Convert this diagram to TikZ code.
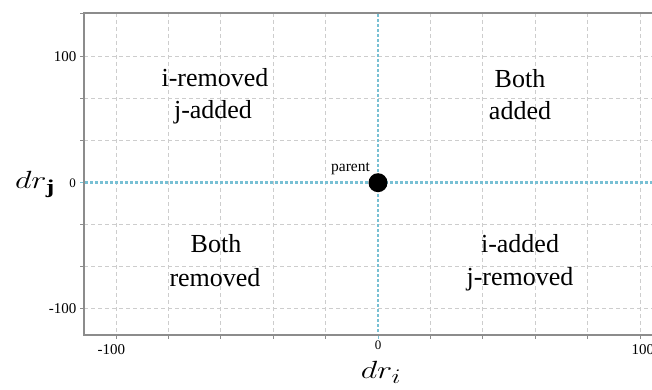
\documentclass[tikz,border=0pt]{standalone}
\usepackage{fontspec}
\setmainfont{Liberation Serif}
\definecolor{gridgray}{RGB}{205,205,205}
\definecolor{axisgray}{RGB}{140,140,140}
\definecolor{dotblue}{RGB}{120,192,212}
\begin{document}
\begin{tikzpicture}[x=1pt,y=-1pt,
  gridline/.style={draw=gridgray,line width=0.8pt,dash pattern=on 4pt off 3pt},
  axisline/.style={draw=axisgray,line width=1.2pt},
  zeroline/.style={draw=dotblue,line width=2.8pt,dash pattern=on 2.6pt off 2.4pt},
  ticklab/.style={inner sep=0pt,font=\fontsize{15}{15}\selectfont},
  smalllab/.style={inner sep=0pt,font=\fontsize{13}{13}\selectfont},
  quadlab/.style={inner sep=0pt,anchor=base,font=\fontsize{26}{26}\selectfont},
  axlab/.style={inner sep=0pt}]
\clip (0,0) rectangle (652,390);
\fill[white] (0,0) rectangle (652,390);
% grid
\foreach \x in {116,168.4,220.8,273.2,325.6,430.4,482.8,535.2,587.6,640}
  \draw[gridline] (\x,13) -- (\x,335);
\foreach \y in {56.7,98.7,140.7,224.7,266.7,308.7}
  \draw[gridline] (84,\y) -- (652,\y);
% ticks
\foreach \y in {13,56.7,98.7,140.7,224.7,266.7,308.7}
  \draw[axisline,line width=0.9pt] (80,\y) -- (84,\y);
\draw[dotblue,line width=0.9pt] (80,182.7) -- (84,182.7);
\foreach \x in {116,168.4,220.8,273.2,325.6,430.4,482.8,535.2,587.6,640}
  \draw[axisline,line width=0.9pt] (\x,335) -- (\x,339);
\draw[dotblue,line width=0.9pt] (378,335) -- (378,339);
% zero lines
\coordinate (vtop) at (378,14);
\coordinate (vbot) at (378,334);
\coordinate (hleft) at (85,182.7);
\coordinate (hright) at (652,182.7);
\draw[zeroline] (vtop) -- (vbot);
\draw[zeroline] (hleft) -- (hright);
% axes
\draw[axisline] (652,13) -- (84,13) -- (84,335) -- (652,335);
% tick labels
\node[ticklab,anchor=east] (y100) at (76.5,56.7) {100};
\node[smalllab,anchor=east] (y0) at (76,183) {0};
\node[ticklab,anchor=east] (ym100) at (76.5,309) {-100};
\node[ticklab] (xm100) at (111.3,350) {-100};
\node[smalllab] (x0) at (378,345.5) {0};
\node[ticklab,anchor=west] (x100) at (631.5,350) {100};
% parent point
\node[circle,fill=black,minimum size=19pt,inner sep=0pt] (parent) at (378,182.7) {};
\node[inner sep=0pt,anchor=base,font=\fontsize{15.5}{15.5}\selectfont] (plab) at (350.5,171.7) {parent};
% quadrant labels
\node[quadlab] (tla) at (215,86.7) {i-removed};
\node[quadlab] (tlb) at (213,118.5) {j-added};
\node[quadlab] (tra) at (520,87.5) {Both};
\node[quadlab] (trb) at (520,119.5) {added};
\node[quadlab] (bla) at (216,252) {Both};
\node[quadlab] (blb) at (215,286) {removed};
\node[quadlab] (bra) at (520,252) {i-added};
\node[quadlab] (brb) at (520,285.5) {j-removed};
% axis labels
\node[axlab] (dry) at (35,184) {\scalebox{1.3}[1]{\fontsize{28}{28}\selectfont$dr_{\mathbf{j}}$}};
\node[axlab] (drx) at (381,372) {\scalebox{1.3}[1]{\fontsize{28}{28}\selectfont$dr_{i}$}};
\end{tikzpicture}
\end{document}
